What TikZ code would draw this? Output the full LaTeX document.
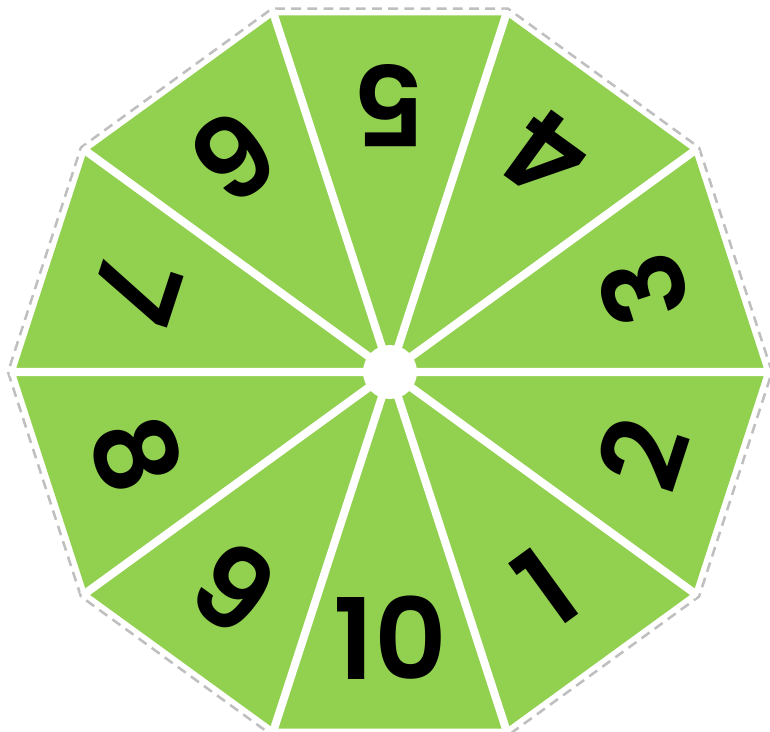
\documentclass[tikz,border=0pt]{standalone}
\usepackage{fontspec}
\setmainfont{Poppins}[BoldFont={* SemiBold}]
\definecolor{spin}{HTML}{92D050}
\definecolor{cut}{HTML}{BFBFBF}
\tikzset{num/.style={inner sep=0pt, font=\fontsize{80}{80}\selectfont\bfseries},
  spoke/.style={draw=white, line width=5.7pt},
  cutline/.style={draw=cut, line width=1.8pt, dash pattern=on 7pt off 4.5pt}}

\begin{document}
\begin{tikzpicture}[x=0.025cm, y=0.025cm]
  \useasboundingbox (-390,-359) rectangle (380,372);
  % cutting outline
  \draw[cutline] (0:382) -- (36:382) -- (72:382) -- (108:382) -- (144:382) -- (180:382)
    -- (216:382) -- (252:382) -- (288:382) -- (324:382) -- cycle;
  % green face
  \fill[spin] (0:375) -- (36:375) -- (72:375) -- (108:375) -- (144:375) -- (180:375)
    -- (216:375) -- (252:375) -- (288:375) -- (324:375) -- cycle;
  % white spokes and hub
  \draw[spoke] (0:380) -- (180:380) (36:380) -- (216:380) (72:380) -- (252:380)
    (108:380) -- (288:380) (144:380) -- (324:380);
  \fill[white] (0,0) circle (27);
  % numbers, tops towards the hub
  \node[num, rotate=36]  (n1)  at (306:266) {1};
  \node[num, rotate=72]  (n2)  at (342:266) {2};
  \node[num, rotate=108] (n3)  at (18:266)  {3};
  \node[num, rotate=144] (n4)  at (54:266)  {4};
  \node[num, rotate=180] (n5)  at (90:266)  {5};
  \node[num, rotate=216] (n6)  at (126:266) {6};
  \node[num, rotate=252] (n7)  at (162:266) {7};
  \node[num, rotate=288] (n8)  at (198:266) {8};
  \node[num, rotate=324] (n9)  at (234:266) {9};
  \node[num]             (n10) at (270:266) {10};
\end{tikzpicture}
\end{document}
